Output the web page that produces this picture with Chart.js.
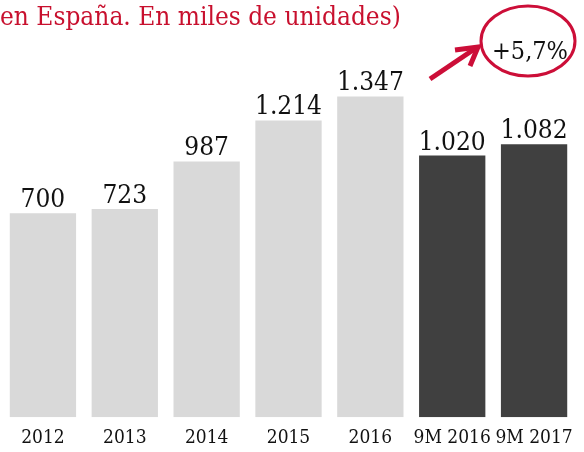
<!DOCTYPE html>
<html>
<head>
<meta charset="utf-8">
<script src="https://cdn.jsdelivr.net/npm/chart.js@4"></script>
<style>
  html, body { margin: 0; padding: 0; background: #fff; }
  #wrap { position: relative; width: 584px; height: 452px; overflow: hidden; }
</style>
</head>
<body>
<div id="wrap">
  <canvas id="c" width="584" height="452"></canvas>
</div>
<script>
const categories = ['2012', '2013', '2014', '2015', '2016', '9M 2016', '9M 2017'];
const values = [700, 723, 987, 1214, 1347, 1020, 1082];
const changeLabel = '+5,7%';
const titleText = 'en España. En miles de unidades)';

const LIGHT = '#d9d9d9';
const DARK = '#404040';
const RED = '#cc0e38';
const FONT = "'DejaVu Serif Condensed', 'DejaVu Serif', serif";
const Y_MIN = -430;

function fmt(v) {
  return String(v).replace(/\B(?=(\d{3})+(?!\d))/g, '.');
}

const valueLabels = {
  id: 'valueLabels',
  afterDatasetsDraw(chart) {
    const ctx = chart.ctx;
    const meta = chart.getDatasetMeta(0);
    ctx.save();
    ctx.fillStyle = '#111';
    ctx.font = "26px " + FONT;
    ctx.textAlign = 'center';
    ctx.textBaseline = 'alphabetic';
    meta.data.forEach((bar, i) => {
      ctx.fillText(fmt(values[i]), bar.x, bar.y - 6);
    });
    ctx.restore();
  }
};

const badge = {
  id: 'badge',
  afterDraw(chart) {
    const ctx = chart.ctx;
    ctx.save();
    // title
    ctx.fillStyle = '#c8102e';
    ctx.font = "26px " + FONT;
    ctx.textAlign = 'left';
    ctx.textBaseline = 'alphabetic';
    ctx.fillText(titleText, 0, 25);
    // circle
    ctx.strokeStyle = RED;
    ctx.lineWidth = 3;
    ctx.beginPath();
    ctx.ellipse(528, 41, 47, 35, 0, 0, Math.PI * 2);
    ctx.stroke();
    ctx.fillStyle = '#111';
    ctx.font = "25px " + FONT;
    ctx.textAlign = 'center';
    ctx.fillText(changeLabel, 530, 59);
    // arrow
    ctx.lineWidth = 5;
    ctx.lineCap = 'butt';
    ctx.lineJoin = 'miter';
    ctx.beginPath();
    ctx.moveTo(430, 79);
    ctx.lineTo(476, 48);
    ctx.stroke();
    ctx.beginPath();
    ctx.moveTo(455, 50);
    ctx.lineTo(478, 47);
    ctx.lineTo(470, 66);
    ctx.stroke();
    ctx.restore();
  }
};

new Chart(document.getElementById('c'), {
  type: 'bar',
  data: {
    labels: categories,
    datasets: [{
      data: values,
      base: Y_MIN,
      backgroundColor: (c) => c.dataIndex < 5 ? LIGHT : DARK,
      borderWidth: 0,
      barPercentage: 0.81,
      categoryPercentage: 1
    }]
  },
  options: {
    responsive: false,
    animation: false,
    devicePixelRatio: 1,
    layout: { padding: { left: 2, right: 9, top: 40, bottom: -6 } },
    plugins: { legend: { display: false }, tooltip: { enabled: false }, title: { display: false } },
    scales: {
      x: {
        grid: { display: false, drawTicks: false },
        border: { display: false },
        ticks: {
          color: '#111',
          font: { family: FONT, size: 19 },
          padding: 9,
          maxRotation: 0,
          autoSkip: false
        }
      },
      y: {
        display: false,
        min: Y_MIN,
        max: 1660
      }
    }
  },
  plugins: [valueLabels, badge]
});
</script>
</body>
</html>
